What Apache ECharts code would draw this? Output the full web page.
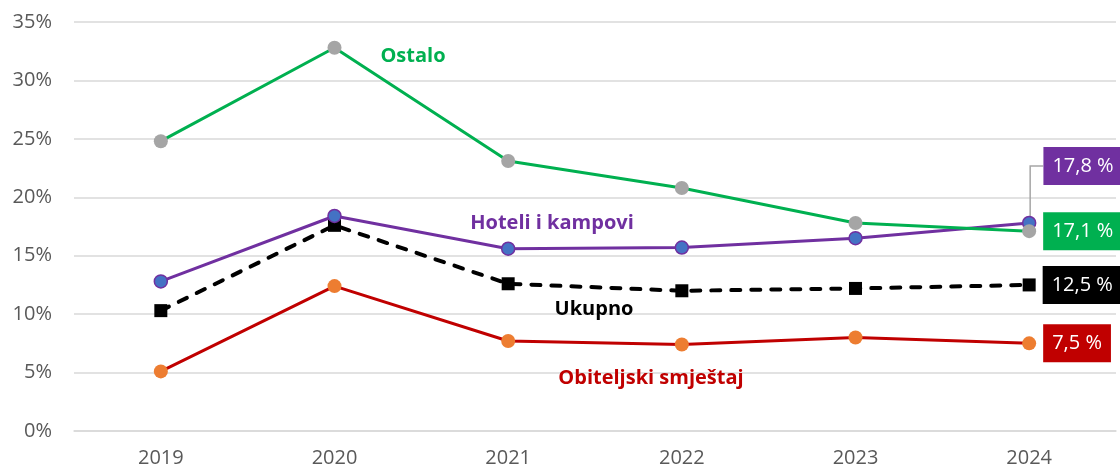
<!DOCTYPE html>
<html>
<head>
<meta charset="utf-8">
<script src="https://cdn.jsdelivr.net/npm/echarts@6/dist/echarts.min.js"></script>
<style>
  html, body { margin: 0; padding: 0; background: #fff; }
  #chart { width: 1120px; height: 470px; }
</style>
</head>
<body>
<div id="chart"></div>
<script>
var years = ['2019', '2020', '2021', '2022', '2023', '2024'];
var ostalo = [24.8, 32.8, 23.1, 20.8, 17.8, 17.1];
var hoteli = [12.8, 18.4, 15.6, 15.7, 16.5, 17.8];
var ukupno = [10.3, 17.6, 12.6, 12.0, 12.2, 12.5];
var obiteljski = [5.1, 12.4, 7.7, 7.4, 8.0, 7.5];
var yTicks = [0, 5, 10, 15, 20, 25, 30, 35];

var font = '"Open Sans", sans-serif';

// value box on the last point only
var endLabel = function (color, extra) {
  return Object.assign({
    show: true,
    position: 'right',
    distance: 7,
    color: '#fff',
    backgroundColor: color,
    fontFamily: font,
    fontSize: 20,
    lineHeight: 20,
    padding: [9, 9, 9, 9],
    formatter: function (p) {
      return p.value.toFixed(1).replace('.', ',') + ' %';
    }
  }, extra || {});
};

var lastPoint = function (arr, label) {
  return arr.map(function (v, i) {
    if (i !== arr.length - 1) return v;
    return { value: v, label: label };
  });
};

var seriesText = function (text, x, y, color) {
  return {
    type: 'text', x: x, y: y, z: 10,
    style: { text: text, fill: color, font: 'bold 20px ' + font,
      textAlign: 'center', textVerticalAlign: 'middle' }
  };
};

var chart = echarts.init(document.getElementById('chart'));
var option = {
  animation: false,
  grid: { left: 74, right: 4, top: 22, bottom: 39 },
  xAxis: {
    type: 'category',
    data: years,
    axisLine: { lineStyle: { color: '#d9d9d9', width: 1.5 } },
    axisTick: { show: false },
    axisLabel: { color: '#595959', fontSize: 20, fontFamily: font, margin: 17 }
  },
  yAxis: {
    type: 'value',
    min: yTicks[0],
    max: yTicks[yTicks.length - 1],
    interval: 5,
    axisLine: { show: false },
    axisTick: { show: false },
    splitLine: { lineStyle: { color: '#d9d9d9', width: 1.5 } },
    axisLabel: { color: '#595959', fontSize: 20, fontFamily: font, margin: 22,
      formatter: '{value}%' }
  },
  series: [
    {
      name: 'Ukupno',
      type: 'line',
      data: lastPoint(ukupno, endLabel('#000')),
      symbol: 'rect',
      symbolSize: 13,
      lineStyle: { color: '#000', width: 4, type: [9, 11], cap: 'round' },
      itemStyle: { color: '#000' },
      z: 2
    },
    {
      name: 'Obiteljski smještaj',
      type: 'line',
      data: lastPoint(obiteljski, endLabel('#C00000')),
      symbol: 'circle',
      symbolSize: 14,
      lineStyle: { color: '#C00000', width: 3 },
      itemStyle: { color: '#ED7D31' },
      z: 3
    },
    {
      name: 'Hoteli i kampovi',
      type: 'line',
      data: lastPoint(hoteli, endLabel('#7030A0', { offset: [0, -57] })),
      symbol: 'circle',
      symbolSize: 13,
      lineStyle: { color: '#7030A0', width: 3 },
      itemStyle: { color: '#4472C4', borderColor: '#7030A0', borderWidth: 1.5 },
      z: 4
    },
    {
      name: 'Ostalo',
      type: 'line',
      data: lastPoint(ostalo, endLabel('#00B050')),
      symbol: 'circle',
      symbolSize: 14,
      lineStyle: { color: '#00B050', width: 3 },
      itemStyle: { color: '#A5A5A5' },
      z: 5
    }
  ]
};
chart.setOption(option);

// leader line from the last Hoteli point up to its moved box
var last = years.length - 1;
var p = chart.convertToPixel({ gridIndex: 0 }, [last, hoteli[last]]);
chart.setOption({
  graphic: [
    seriesText('Ostalo', 413, 56, '#00B050'),
    seriesText('Hoteli i kampovi', 552, 223, '#7030A0'),
    seriesText('Ukupno', 594, 309, '#000'),
    seriesText('Obiteljski smještaj', 651, 378, '#C00000'),
    {
      type: 'polyline', z: 1,
      shape: { points: [[p[0] + 1, p[1]], [p[0] + 1, p[1] - 57], [p[0] + 14, p[1] - 57]] },
      style: { stroke: '#a6a6a6', lineWidth: 1.5, fill: null }
    }
  ]
});
</script>
</body>
</html>
